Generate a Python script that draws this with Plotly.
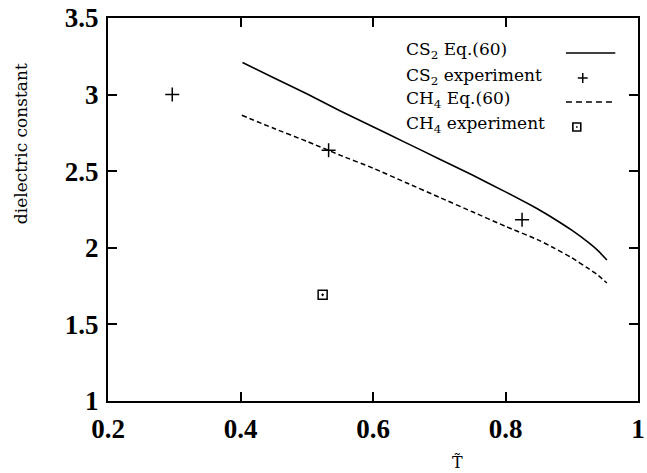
import plotly.graph_objects as go

# Reduced temperature grid and dielectric constants from Eq.(60)
t_cs2_eq = [0.403, 0.45, 0.50, 0.55, 0.60, 0.65, 0.70, 0.75, 0.80, 0.85, 0.875, 0.90, 0.925, 0.94, 0.953]
eps_cs2_eq = [3.21, 3.11, 3.005, 2.895, 2.79, 2.685, 2.58, 2.475, 2.365, 2.25, 2.185, 2.115, 2.035, 1.98, 1.92]
t_ch4_eq = [0.402, 0.45, 0.50, 0.55, 0.60, 0.65, 0.70, 0.75, 0.80, 0.85, 0.875, 0.90, 0.925, 0.94, 0.953]
eps_ch4_eq = [2.865, 2.78, 2.695, 2.605, 2.52, 2.425, 2.33, 2.235, 2.14, 2.05, 1.995, 1.935, 1.865, 1.82, 1.77]

# Experimental values
t_cs2_exp = [0.297, 0.533, 0.825]
eps_cs2_exp = [3.0, 2.636, 2.183]
t_ch4_exp = [0.524]
eps_ch4_exp = [1.693]

x_ticks = [0.2, 0.4, 0.6, 0.8, 1.0]
x_tick_text = ["0.2", "0.4", "0.6", "0.8", "1"]
y_ticks = [1, 1.5, 2, 2.5, 3, 3.5]
y_tick_text = ["1", "1.5", "2", "2.5", "3", "3.5"]

legend_labels = ["CS<sub>2</sub> Eq.(60)", "CS<sub>2</sub> experiment",
                 "CH<sub>4</sub> Eq.(60)", "CH<sub>4</sub> experiment"]

W, H = 647, 473
ML, MR, MT, MB = 108, 2, 18, 72
PW, PH = W - ML - MR, H - MT - MB

def px_x(px):
    return (px - ML) / PW

def px_y(py):
    return (H - MB - py) / PH

fig = go.Figure()
fig.add_trace(go.Scatter(x=t_cs2_eq, y=eps_cs2_eq, mode="lines",
                         line=dict(color="black", width=1.6, shape="spline", smoothing=0.5),
                         showlegend=False))
fig.add_trace(go.Scatter(x=t_ch4_eq, y=eps_ch4_eq, mode="lines",
                         line=dict(color="black", width=1.5, dash="5px,3px",
                                   shape="spline", smoothing=0.5),
                         showlegend=False))
fig.add_trace(go.Scatter(x=t_cs2_exp, y=eps_cs2_exp, mode="markers",
                         marker=dict(symbol="cross-thin", size=10, color="black",
                                     line=dict(color="black", width=1.5)),
                         showlegend=False))
fig.add_trace(go.Scatter(x=t_ch4_exp, y=eps_ch4_exp, mode="markers",
                         marker=dict(symbol="square-open-dot", size=9, color="black",
                                     line=dict(color="black", width=1.5)),
                         showlegend=False))

serif = "DejaVu Serif"
annotations = []
shapes = []

# Key block: text on the left, sample on the right
row_y = [51, 76, 100, 124]
for lab, ry in zip(legend_labels, row_y):
    annotations.append(dict(x=px_x(408), y=px_y(ry), xref="paper", yref="paper",
                            text=lab, showarrow=False, xanchor="left", yanchor="middle",
                            font=dict(family=serif, size=17, color="black")))

shapes.append(dict(type="line", xref="paper", yref="paper",
                   x0=px_x(572), x1=px_x(622), y0=px_y(53), y1=px_y(53),
                   line=dict(color="black", width=1.6)))
shapes.append(dict(type="line", xref="paper", yref="paper",
                   x0=px_x(572), x1=px_x(622), y0=px_y(102), y1=px_y(102),
                   line=dict(color="black", width=1.5, dash="6px,4px")))
# plus sample
shapes.append(dict(type="line", xref="paper", yref="paper",
                   x0=px_x(584), x1=px_x(594), y0=px_y(78), y1=px_y(78),
                   line=dict(color="black", width=1.5)))
shapes.append(dict(type="line", xref="paper", yref="paper",
                   x0=px_x(589), x1=px_x(589), y0=px_y(73), y1=px_y(83),
                   line=dict(color="black", width=1.5)))
# square sample
shapes.append(dict(type="rect", xref="paper", yref="paper",
                   x0=px_x(579), x1=px_x(587), y0=px_y(123), y1=px_y(131),
                   line=dict(color="black", width=1.6)))
shapes.append(dict(type="rect", xref="paper", yref="paper",
                   x0=px_x(582.2), x1=px_x(583.8), y0=px_y(126.2), y1=px_y(127.8),
                   line=dict(color="black", width=0), fillcolor="black"))

# Axis titles
annotations.append(dict(x=px_x(20), y=px_y(144), xref="paper", yref="paper",
                        text="dielectric constant", textangle=-90, showarrow=False,
                        xanchor="center", yanchor="middle",
                        font=dict(family=serif, size=17, color="black")))
annotations.append(dict(x=px_x(462), y=px_y(462), xref="paper", yref="paper",
                        text="T\u0303", showarrow=False,
                        xanchor="center", yanchor="middle",
                        font=dict(family=serif, size=16, color="black")))

tick_font = dict(family="Liberation Serif", size=27, color="black", weight="bold")
axis_common = dict(showgrid=False, zeroline=False, showline=True, linecolor="black",
                   linewidth=2, mirror="ticks", ticks="inside", ticklen=9,
                   tickwidth=2, tickcolor="black", tickfont=tick_font,
                   ticklabeloverflow="allow")

fig.update_layout(
    width=W, height=H,
    margin=dict(l=ML, r=MR, t=MT, b=MB),
    plot_bgcolor="white", paper_bgcolor="white",
    xaxis=dict(range=[0.2, 1.0], tickvals=x_ticks, ticktext=x_tick_text,
               ticklabelstandoff=3, **axis_common),
    yaxis=dict(range=[1, 3.5], tickvals=y_ticks, ticktext=y_tick_text,
               ticklabelstandoff=2, **axis_common),
    annotations=annotations,
    shapes=shapes,
)

fig.write_html("out.html")
